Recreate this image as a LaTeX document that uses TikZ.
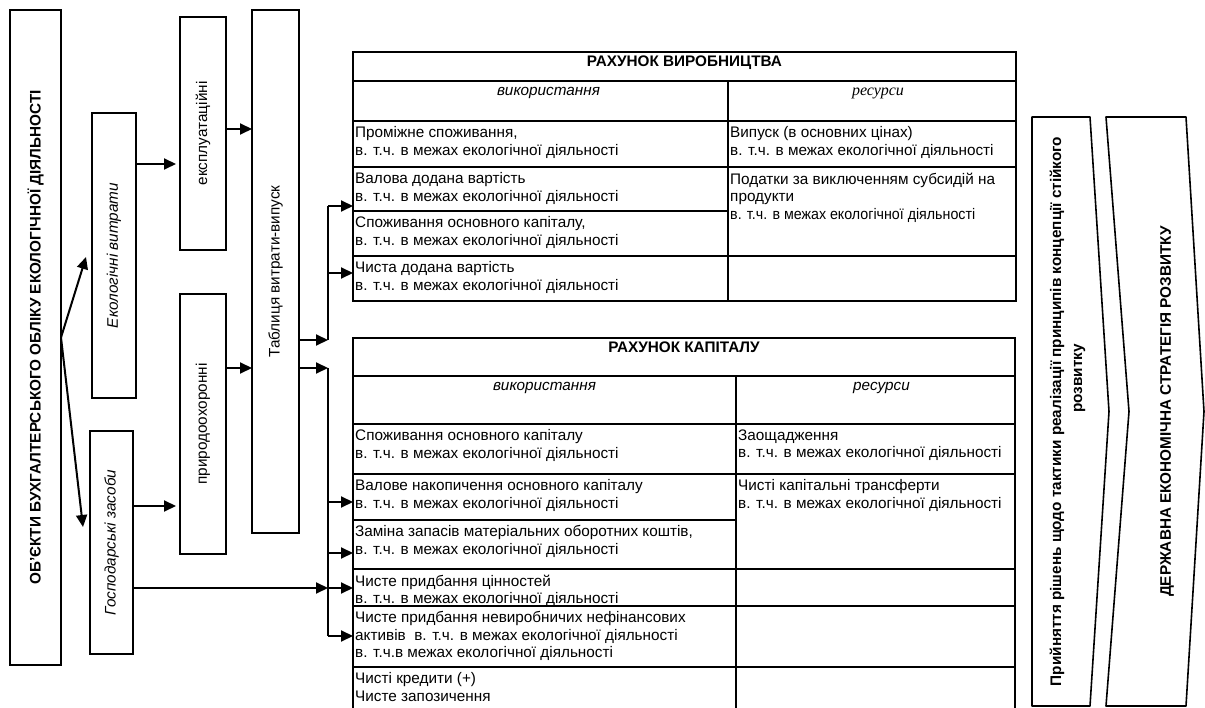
\documentclass[tikz,border=0pt]{standalone}
\usepackage{fontspec}
\setmainfont{Liberation Sans}
\newfontfamily\serifFont{Liberation Serif}
\usepackage{tikz}
\usetikzlibrary{arrows.meta}
\newcommand{\diagramFont}{\fontsize{15.3}{17.5}\selectfont}
\tikzstyle{pixels} = [x = 1pt, y = -1pt, every node/.style = {font = \diagramFont}]
\tikzstyle{boxStyle} = [draw, line width = 2pt, inner sep = 0pt, outer sep = 0pt]
\tikzstyle{cellStyle} = [boxStyle, anchor = north west]
\tikzstyle{cellText} = [anchor = north west, align = left, inner sep = 0pt]
\tikzstyle{titleText} = [anchor = base, font = \diagramFont\bfseries]
\tikzstyle{subText} = [anchor = base, font = \diagramFont\itshape]
\tikzstyle{flowArrow} = [line width = 2pt, -{Triangle[length = 12pt, width = 11pt]}]
\tikzstyle{busLine} = [line width = 2pt]
\tikzstyle{chevronStyle} = [line width = 1.6pt, line join = round]
\newcommand{\verticalBox}[6]{\node [boxStyle, minimum width = #4, minimum height = #5] (#1) at (#2, #3) {}; \node [rotate = 90] at (#1) {#6};}
\newcommand{\tableCell}[6]{\node [cellStyle, minimum width = #4, minimum height = #5] (#1) at (#2, #3) {}; \node [cellText] at ([xshift = 2pt, yshift = -5.5pt]#1.north west) {#6};}
\newcommand{\envShare}{в. т.ч. в межах екологічної діяльності}

\begin{document}
\begin{tikzpicture}[pixels]
  \useasboundingbox (0,0) rectangle (1205,708);
  \node [boxStyle, minimum width = 51, minimum height = 655] (objects) at (35.5, 337.5) {};
  \node [rotate = 90, font = \diagramFont\bfseries] at (objects) {ОБ’ЄКТИ БУХГАЛТЕРСЬКОГО ОБЛІКУ ЕКОЛОГІЧНОЇ ДІЯЛЬНОСТІ};
  \verticalBox{ecoCosts}{114}{255.5}{44}{285}{\itshape Екологічні витрати}
  \verticalBox{assets}{111.5}{542.5}{43}{223}{\itshape Господарські засоби}
  \verticalBox{operating}{203}{133.5}{46}{233}{експлуатаційні}
  \verticalBox{protective}{203}{424}{46}{260}{природоохоронні}
  \verticalBox{ioTable}{275.5}{271.5}{47}{523}{Таблиця витрати-випуск}

  % production account
  \tableCell{prodHead}{353}{52}{663}{29}{}
  \tableCell{prodUse}{353}{81}{375}{40}{}
  \tableCell{prodRes}{728}{81}{288}{40}{}
  \node [titleText] at ([yshift = -15pt]prodHead.north) {РАХУНОК ВИРОБНИЦТВА};
  \node [subText] at ([xshift = 8pt, yshift = -15pt]prodUse.north) {використання};
  \node [anchor = base, font = \serifFont\itshape\fontsize{16}{18}\selectfont] at ([xshift = 6pt, yshift = -15pt]prodRes.north) {ресурси};
  \tableCell{pr1}{353}{121}{375}{46}{Проміжне споживання,\\\envShare}
  \tableCell{pr2}{353}{167}{375}{44}{Валова додана вартість\\\envShare}
  \tableCell{pr3}{353}{211}{375}{45}{Споживання основного капіталу,\\\envShare}
  \tableCell{pr4}{353}{256}{375}{45}{Чиста додана вартість\\\envShare}
  \tableCell{ps1}{728}{121}{288}{46}{Випуск (в основних цінах)\\\envShare}
  \tableCell{ps2}{728}{167}{288}{89}{Податки за виключенням субсидій на\\продукти\\\scalebox{0.93}[1]{\envShare}}
  \tableCell{ps3}{728}{256}{288}{45}{}

  % capital account
  \tableCell{capHead}{353}{338}{662}{38}{}
  \tableCell{capUse}{353}{376}{383}{48}{}
  \tableCell{capRes}{736}{376}{279}{48}{}
  \node [titleText] at ([yshift = -15pt]capHead.north) {РАХУНОК КАПІТАЛУ};
  \node [subText] at ([yshift = -15pt]capUse.north) {використання};
  \node [subText] at ([xshift = 6pt, yshift = -15pt]capRes.north) {ресурси};
  \tableCell{cr1}{353}{424}{383}{50}{Споживання основного капіталу\\\envShare}
  \tableCell{cr2}{353}{474}{383}{46}{Валове накопичення основного капіталу\\\envShare}
  \tableCell{cr3}{353}{520}{383}{49}{Заміна запасів матеріальних оборотних коштів,\\\envShare}
  \tableCell{cr4}{353}{569}{383}{37}{Чисте придбання цінностей\\\envShare}
  \tableCell{cr5}{353}{606}{383}{61}{Чисте придбання невиробничих нефінансових\\активів\ \ \envShare\\в. т.ч.в межах екологічної діяльності}
  \tableCell{cr6}{353}{667}{383}{60}{Чисті кредити (+)\\Чисте запозичення}
  \tableCell{cs1}{736}{424}{279}{50}{Заощадження\\\envShare}
  \tableCell{cs2}{736}{474}{279}{95}{Чисті капітальні трансферти\\\envShare}
  \tableCell{cs3}{736}{569}{279}{37}{}
  \tableCell{cs4}{736}{606}{279}{61}{}
  \tableCell{cs5}{736}{667}{279}{60}{}

  % arrows
  \coordinate (ecoIn) at ([xshift = -6pt, yshift = -1.5pt]ecoCosts.west);
  \coordinate (assetsIn) at ([xshift = -7pt, yshift = 15.5pt]assets.west);
  \draw [flowArrow] (objects.east) -- (ecoIn);
  \draw [flowArrow] (objects.east) -- (assetsIn);
  \coordinate (ecoOut) at ([yshift = 91.5pt]ecoCosts.east);
  \draw [flowArrow, shorten >= 4pt] (ecoOut) -- (ecoOut -| operating.west);
  \coordinate (assetsOut) at ([yshift = 36.5pt]assets.east);
  \draw [flowArrow, shorten >= 4pt] (assetsOut) -- (assetsOut -| protective.west);
  \coordinate (operatingOut) at ([yshift = 4.5pt]operating.east);
  \draw [flowArrow] (operatingOut) -- (operatingOut -| ioTable.west);
  \coordinate (protectiveOut) at ([yshift = 56pt]protective.east);
  \draw [flowArrow] (protectiveOut) -- (protectiveOut -| ioTable.west);

  \coordinate (upperJoin) at (328, 340);
  \coordinate (lowerJoin) at (328, 368);
  \draw [flowArrow] (ioTable.east |- upperJoin) -- (upperJoin);
  \draw [flowArrow] (ioTable.east |- lowerJoin) -- (lowerJoin);
  \foreach \tapY/\row in {206/pr2, 273/pr4} {
    \coordinate (bus\row) at (328, \tapY);
    \draw [flowArrow] (bus\row) -- (bus\row -| \row.west);
  }
  \foreach \tapY/\row in {502/cr2, 553/cr3, 588/cr4, 636/cr5} {
    \coordinate (bus\row) at (328, \tapY);
    \draw [flowArrow] (bus\row) -- (bus\row -| \row.west);
  }
  \draw [busLine] (upperJoin) -- (buspr2);
  \draw [busLine] (lowerJoin) -- (buscr5);
  \draw [flowArrow] (assets.east |- buscr4) -- (buscr4);

  % decision levels
  \draw [chevronStyle] (1032, 117) -- (1090, 117) -- (1109, 411.5) -- (1090, 706) -- (1032, 706) -- cycle;
  \node [rotate = 90, align = center, font = \fontsize{15.3}{21}\selectfont\bfseries] (tactics) at (1067.5, 411.5) {Прийняття рішень щодо тактики реалізації принципів концепції стійкого\\\hspace*{66pt}розвитку};
  \draw [chevronStyle] (1106, 117) -- (1186, 117) -- (1204, 411.5) -- (1186, 706) -- (1106, 706) -- (1129, 411.5) -- cycle;
  \node [rotate = 90, font = \diagramFont\bfseries] (strategy) at (1167, 411.5) {ДЕРЖАВНА ЕКОНОМІЧНА СТРАТЕГІЯ РОЗВИТКУ};
\end{tikzpicture}
\end{document}
